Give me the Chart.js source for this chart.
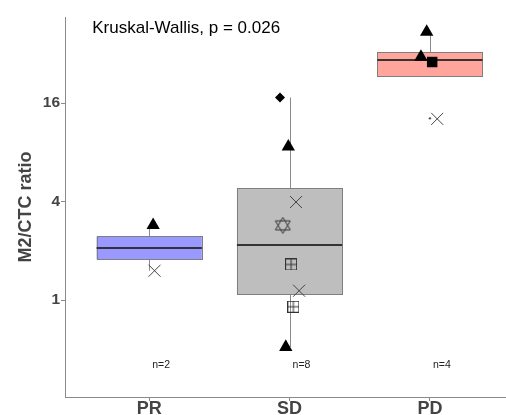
<!DOCTYPE html>
<html>
<head>
<meta charset="utf-8">
<script src="https://cdn.jsdelivr.net/npm/chart.js@4.4.1/dist/chart.umd.min.js"></script>
<style>
  html, body { margin: 0; padding: 0; background: #fff; }
  #wrap { width: 506px; height: 415px; }
</style>
</head>
<body>
<div id="wrap"><canvas id="chart" width="506" height="415"></canvas></div>
<script>
/* ---------- DATA ---------- */
const groups = ["PR", "SD", "PD"];
const counts = [2, 8, 4];
const yTicks = [1, 4, 16];

// box statistics (log2 axis)
const whiskerLow  = [1.51, 0.516, 28.5];
const q1          = [1.77, 1.08, 23.2];
const median      = [2.08, 2.18, 29.2];
const q3          = [2.45, 4.83, 32.6];
const whiskerHigh = [2.87, 17.3, 43.5];
const outlierX = [3];
const outlierY = [12.9];

// jittered points
const prX = [1.028, 1.038];
const prY = [2.87, 1.51];
const prShape = ["tri", "x"];

const sdX = [1.932, 1.991, 2.046, 1.952, 2.011, 2.068, 2.027, 1.973];
const sdY = [17.3, 8.65, 3.97, 2.86, 1.65, 1.14, 0.91, 0.516];
const sdShape = ["dia", "tri", "x", "star", "boxplus", "x", "boxplus", "tri"];

const pdX = [2.977, 2.936, 3.016, 3.052];
const pdY = [43.5, 30.6, 28.5, 12.8];
const pdShape = ["tri", "tri", "sq", "x"];

const testLabel = "Kruskal-Wallis, p = 0.026";

/* ---------- STYLE ---------- */
const boxFill = ["#9999ff", "#bebebe", "#ffa59b"];
const FONT = "'Liberation Sans', Arial, sans-serif";

/* ---------- CUSTOM MARKERS ---------- */
function makeStar() {
  const c = document.createElement("canvas");
  c.width = 17; c.height = 17;
  const g = c.getContext("2d");
  g.strokeStyle = "#333"; g.lineWidth = 1;
  g.beginPath();
  g.moveTo(8.5, 0.5); g.lineTo(16, 13); g.lineTo(1, 13); g.closePath();
  g.moveTo(8.5, 16.5); g.lineTo(16, 4); g.lineTo(1, 4); g.closePath();
  g.stroke();
  return c;
}
function makeBoxPlus() {
  const c = document.createElement("canvas");
  c.width = 12; c.height = 12;
  const g = c.getContext("2d");
  g.strokeStyle = "#333"; g.lineWidth = 1;
  g.strokeRect(0.5, 0.5, 11, 11);
  g.beginPath();
  g.moveTo(6, 0.5); g.lineTo(6, 11.5);
  g.moveTo(0.5, 6); g.lineTo(11.5, 6);
  g.stroke();
  return c;
}
const starImg = makeStar();
const boxPlusImg = makeBoxPlus();

const markers = {
  tri:     { style: "triangle", r: 7.7, bg: "#000", bc: "#000", bw: 0 },
  dia:     { style: "rectRot",  r: 5,   bg: "#000", bc: "#000", bw: 0 },
  sq:      { style: "rect",     r: 7.4, bg: "#000", bc: "#000", bw: 0 },
  x:       { style: "crossRot", r: 8.5, bg: "#444", bc: "#444", bw: 1 },
  star:    { style: starImg,    r: 8,   bg: "#333", bc: "#333", bw: 1 },
  boxplus: { style: boxPlusImg, r: 6,   bg: "#333", bc: "#333", bw: 1 }
};

function pointSet(xs, ys, shapes) {
  return {
    type: "scatter",
    data: xs.map((v, i) => ({ x: v, y: ys[i] })),
    pointStyle: shapes.map(s => markers[s].style),
    pointRadius: shapes.map(s => markers[s].r),
    backgroundColor: shapes.map(s => markers[s].bg),
    borderColor: shapes.map(s => markers[s].bc),
    borderWidth: shapes.map(s => markers[s].bw)
  };
}

/* ---------- BOXPLOT PLUGIN ---------- */
const boxWidth = 0.75;
const boxPlugin = {
  id: "boxes",
  beforeDatasetsDraw(chart) {
    const { ctx, scales: { x, y } } = chart;
    ctx.save();
    groups.forEach((g, i) => {
      const cx = x.getPixelForValue(i + 1);
      const l = x.getPixelForValue(i + 1 - boxWidth / 2);
      const r = x.getPixelForValue(i + 1 + boxWidth / 2);
      const yq1 = y.getPixelForValue(q1[i]);
      const yq3 = y.getPixelForValue(q3[i]);
      const ymed = y.getPixelForValue(median[i]);
      const ylo = y.getPixelForValue(whiskerLow[i]);
      const yhi = y.getPixelForValue(whiskerHigh[i]);
      const px = Math.round(cx) + 0.5;

      ctx.strokeStyle = "#8a8a8a";
      ctx.lineWidth = 1;
      ctx.beginPath();
      ctx.moveTo(px, yq3); ctx.lineTo(px, yhi);
      ctx.moveTo(px, yq1); ctx.lineTo(px, ylo);
      ctx.stroke();

      ctx.fillStyle = boxFill[i];
      ctx.fillRect(l, yq3, r - l, yq1 - yq3);
      ctx.strokeStyle = "#7f7f7f";
      ctx.strokeRect(Math.round(l) + 0.5, Math.round(yq3) + 0.5, Math.round(r - l), Math.round(yq1 - yq3));

      ctx.strokeStyle = "#333";
      ctx.lineWidth = 2;
      ctx.beginPath();
      ctx.moveTo(l, Math.round(ymed)); ctx.lineTo(r, Math.round(ymed));
      ctx.stroke();
    });
    ctx.restore();
  },
  afterDraw(chart) {
    const { ctx, scales: { x, y } } = chart;
    ctx.save();
    ctx.fillStyle = "#000";
    ctx.font = "17px " + FONT;
    ctx.textAlign = "left";
    ctx.textBaseline = "middle";
    ctx.fillText(testLabel, x.getPixelForValue(0.594), y.getPixelForValue(45.7));

    ctx.fillStyle = "#222";
    ctx.font = "10.5px " + FONT;
    ctx.textAlign = "center";
    groups.forEach((g, i) => {
      ctx.fillText("n=" + counts[i], x.getPixelForValue(i + 1.085), y.getPixelForValue(0.4));
    });
    ctx.restore();
  }
};

/* ---------- CHART ---------- */
new Chart(document.getElementById("chart"), {
  type: "scatter",
  data: {
    datasets: [
      pointSet(prX, prY, prShape),
      pointSet(sdX, sdY, sdShape),
      pointSet(pdX, pdY, pdShape),
      {
        type: "scatter",
        data: outlierX.map((v, i) => ({ x: v, y: outlierY[i] })),
        pointStyle: "circle",
        pointRadius: 1.2,
        backgroundColor: "#555",
        borderWidth: 0
      }
    ]
  },
  options: {
    responsive: false,
    animation: false,
    events: [],
    layout: { autoPadding: false, padding: { left: 11, top: 17, right: 0, bottom: 0 } },
    plugins: { legend: { display: false }, tooltip: { enabled: false } },
    scales: {
      x: {
        type: "linear",
        min: 0.4,
        max: 3.542,
        bounds: "data",
        afterBuildTicks: s => { s.ticks = [1, 2, 3].map(v => ({ value: v })); },
        afterFit: s => { s.height = 18; },
        ticks: {
          callback: v => groups[v - 1],
          autoSkip: false,
          maxRotation: 0,
          padding: -3,
          color: "#444",
          font: { family: FONT, size: 18, weight: "bold" }
        },
        grid: { display: true, drawOnChartArea: false, drawTicks: true, tickLength: 4, color: "#8a8a8a" },
        border: { display: true, color: "#8a8a8a", width: 1 }
      },
      y: {
        type: "logarithmic",
        min: 0.2554,
        max: 53.7,
        bounds: "data",
        afterBuildTicks: s => { s.ticks = yTicks.map(v => ({ value: v })); },
        afterFit: s => { s.width = 54; },
        ticks: {
          callback: v => String(v),
          padding: 1,
          color: "#444",
          font: { family: FONT, size: 15.5, weight: "bold" }
        },
        grid: { display: true, drawOnChartArea: false, drawTicks: true, tickLength: 4, color: "#8a8a8a" },
        border: { display: true, color: "#8a8a8a", width: 1 },
        title: {
          display: true,
          text: "M2/CTC ratio",
          color: "#444",
          font: { family: FONT, size: 18, weight: "bold" }
        }
      }
    }
  },
  plugins: [boxPlugin]
});
</script>
</body>
</html>
